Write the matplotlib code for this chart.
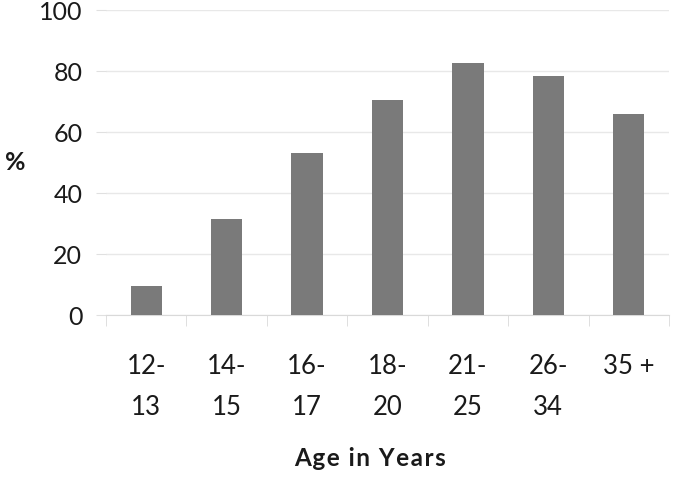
import numpy as np
import matplotlib.pyplot as plt
from matplotlib.ticker import FixedLocator

# --- DATOS ---
grupos = ['12-\n13', '14-\n15', '16-\n17', '18-\n20', '21-\n25', '26-\n34', '35 +']
valores = [9.7, 31.5, 53.0, 70.6, 82.8, 78.5, 65.8]
y_ticks = [0, 20, 40, 60, 80, 100]

plt.rcParams['font.family'] = ['Lato', 'DejaVu Sans']

fig = plt.figure(figsize=(6.75, 4.79), dpi=100)
ax = fig.add_axes([0.157, 0.342, 0.834, 0.637])

x = np.arange(len(grupos))
ax.bar(x, valores, width=0.39, color='#7a7a7a', zorder=3)

ax.set_xlim(-0.5, len(grupos) - 0.5)
ax.set_ylim(0, 100)
ax.set_yticks(y_ticks)
ax.set_yticklabels([str(v) for v in y_ticks], fontsize=18, color='#1a1a1a')
ax.yaxis.grid(True, color='#e8e8e8', linewidth=1, zorder=0)
ax.tick_params(axis='y', length=7, color='#e0e0e0', pad=10)

# etiquetas del eje x
ax.set_xticks(x)
ax.set_xticklabels(grupos, fontsize=18.5, color='#1a1a1a', linespacing=1.8)
ax.tick_params(axis='x', which='major', length=0, pad=28)
ax.xaxis.set_minor_locator(FixedLocator(np.arange(-0.5, len(grupos), 1.0)))
ax.tick_params(axis='x', which='minor', length=8, color='#d9d9d9')

for s in ['top', 'right', 'left']:
    ax.spines[s].set_visible(False)
ax.spines['bottom'].set_color('#d9d9d9')

# titulo del eje x con letras espaciadas
titulo = '\u200a'.join('Age in Years')
fig.text(370 / 675, 1 - 459 / 479, titulo, ha='center', va='center',
         fontsize=17.5, fontweight='bold', color='#1a1a1a')
fig.text(15 / 675, 1 - 162 / 479, '%', ha='center', va='center',
         fontsize=18, fontweight='bold', color='#1a1a1a')

plt.savefig('out.png', dpi=100)
